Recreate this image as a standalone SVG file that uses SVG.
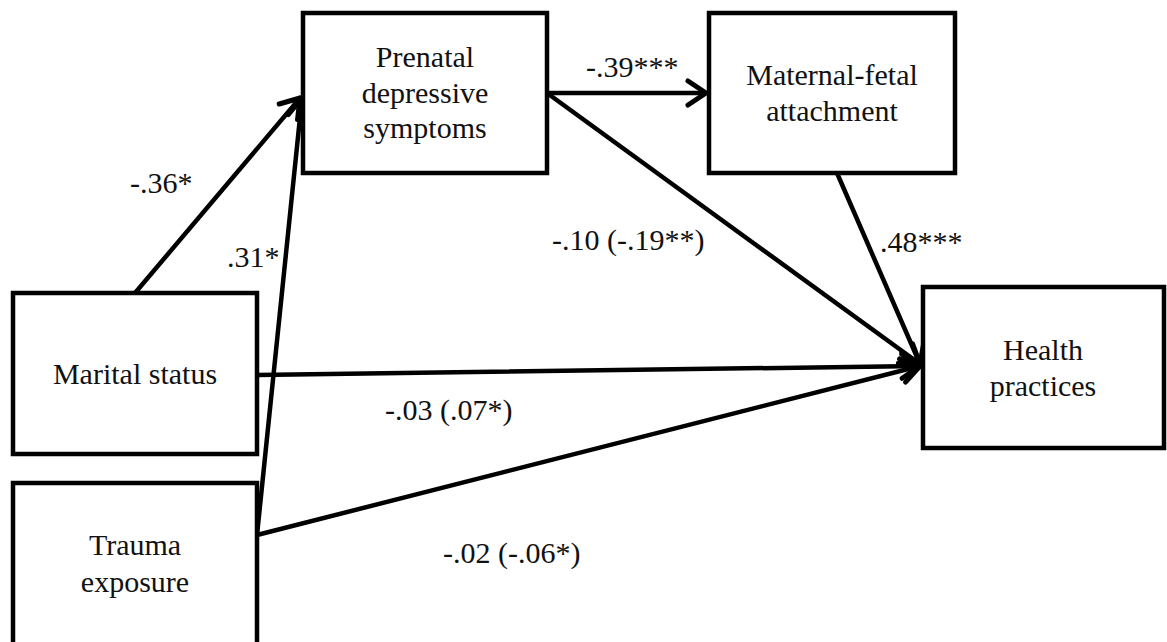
<svg xmlns="http://www.w3.org/2000/svg" width="1167" height="642" viewBox="0 0 1167 642">
<style>
.box{fill:#fff;stroke:#000;stroke-width:4.5}
text{font-family:'Liberation Serif','Times New Roman',serif;font-size:30px;fill:#111}
.t{text-anchor:middle}
.c{fill:none;stroke:#000;stroke-width:4.5;stroke-linecap:round}
</style>
<defs>
<marker id="ah" markerUnits="userSpaceOnUse" markerWidth="40" markerHeight="40" viewBox="-25 -20 40 40" refX="0" refY="0" orient="auto">
<path d="M-18,-12 L0,0 L-18,12" fill="none" stroke="#000" stroke-width="5" stroke-linecap="round" stroke-linejoin="round"/>
</marker>
</defs>
<rect width="1167" height="642" fill="#fff"/>
<g id="connectors">
<path class="c" d="M135,293 L300,98" marker-end="url(#ah)"/>
<path class="c" d="M257,535 L302,98" marker-end="url(#ah)"/>
<path class="c" d="M547,93 L706,93" marker-end="url(#ah)"/>
<path class="c" d="M547,93 L920,364" marker-end="url(#ah)"/>
<path class="c" d="M837,173 L920,364" marker-end="url(#ah)"/>
<path class="c" d="M257,375 L920,366" marker-end="url(#ah)"/>
<path class="c" d="M257,535 L920,366" marker-end="url(#ah)"/>
</g>
<g id="prenatal">
<rect class="box" x="303" y="13" width="244" height="160"/>
<text class="t" x="425" y="67">Prenatal</text>
<text class="t" x="425" y="103">depressive</text>
<text class="t" x="425" y="138">symptoms</text>
</g>
<g id="maternal">
<rect class="box" x="709" y="13" width="246" height="160"/>
<text class="t" x="832" y="85">Maternal-fetal</text>
<text class="t" x="832" y="121">attachment</text>
</g>
<g id="marital">
<rect class="box" x="13" y="293" width="244" height="161"/>
<text class="t" x="135" y="384">Marital status</text>
</g>
<g id="trauma">
<rect class="box" x="13" y="483" width="244" height="165"/>
<text class="t" x="135" y="555">Trauma</text>
<text class="t" x="135" y="592">exposure</text>
</g>
<g id="health">
<rect class="box" x="923" y="287" width="241" height="161"/>
<text class="t" x="1043" y="360">Health</text>
<text class="t" x="1043" y="396">practices</text>
</g>
<g id="labels">
<text x="130" y="193">-.36*</text>
<text x="227" y="267">.31*</text>
<text x="586" y="77">-.39***</text>
<text x="552" y="250">-.10 (-.19**)</text>
<text x="880" y="252">.48***</text>
<text x="385" y="420">-.03 (.07*)</text>
<text x="443" y="563">-.02 (-.06*)</text>
</g>
</svg>
